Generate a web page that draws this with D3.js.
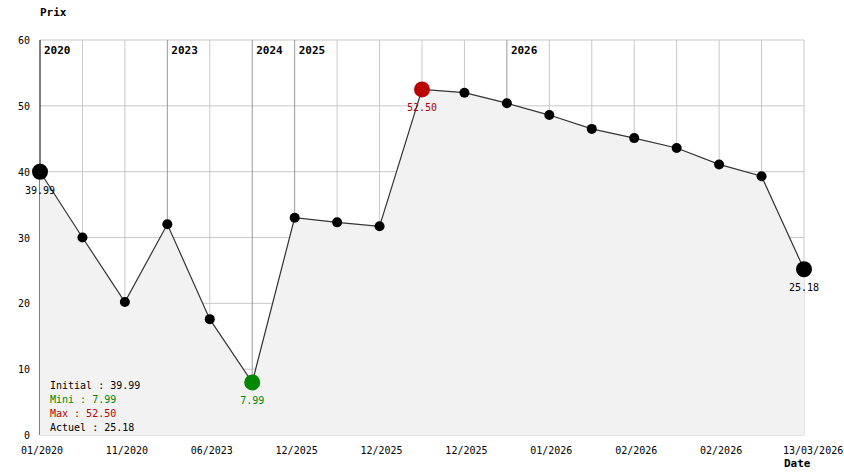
<!DOCTYPE html>
<html><head><meta charset="utf-8">
<script src="https://cdn.jsdelivr.net/npm/d3@7"></script>
<style>body{margin:0;background:#fff}svg{display:block}text{font-family:"DejaVu Sans Mono",monospace}</style>
</head><body>
<svg id="c" width="844" height="474"></svg>
<script>
const prices = [39.99, 30.0, 20.2, 32.0, 17.6, 7.99, 33.0, 32.3, 31.7, 52.50, 52.0, 50.4, 48.6, 46.5, 45.1, 43.6, 41.1, 39.3, 25.18];
const xLabels = ["01/2020","","11/2020","","06/2023","","12/2025","","12/2025","","12/2025","","01/2026","","02/2026","","02/2026","","13/03/2026"];
const yearMarks = [{i:0,label:"2020"},{i:3,label:"2023"},{i:5,label:"2024"},{i:6,label:"2025"},{i:11,label:"2026"}];
const yTicks = [0,10,20,30,40,50,60];
const legend = [{t:"Initial : 39.99",c:"#000"},{t:"Mini : 7.99",c:"#008800"},{t:"Max : 52.50",c:"#bb0000"},{t:"Actuel : 25.18",c:"#000"}];

const svg = d3.select("#c");
const L=40,R=804,T=40,B=435;
const x = d3.scaleLinear().domain([0,prices.length-1]).range([L,R]);
const y = d3.scaleLinear().domain([0,60]).range([B,T]);
const idx = d3.range(prices.length);
const last = prices.length-1;

// grid
svg.append("g").selectAll("line").data(yTicks).join("line")
  .attr("x1",L).attr("x2",R).attr("y1",d=>y(d)).attr("y2",d=>y(d)).attr("stroke","#c8c8c8");
const yearIdx = new Set(yearMarks.map(d=>d.i));
svg.append("g").selectAll("line").data(idx).join("line")
  .attr("x1",d=>x(d)).attr("x2",d=>x(d)).attr("y1",T).attr("y2",B)
  .attr("stroke",d=>d===0?"#000":(yearIdx.has(d)?"#999":"#c8c8c8"));

// area
svg.append("path").datum(idx)
  .attr("d",d3.area().x(d=>x(d)).y0(y(0)).y1(d=>y(prices[d])))
  .attr("fill","#f2f2f2");
svg.append("path").datum(idx)
  .attr("d",d3.line().x(d=>x(d)).y(d=>y(prices[d])))
  .attr("fill","none").attr("stroke","#333").attr("stroke-width",1.2);

// year labels
svg.append("g").selectAll("text").data(yearMarks).join("text")
  .attr("x",d=>x(d.i)+4).attr("y",T+14).attr("font-size",11).attr("font-weight","bold").text(d=>d.label);

// y axis labels
svg.append("g").selectAll("text").data(yTicks).join("text")
  .attr("x",30).attr("y",d=>y(d)+4).attr("text-anchor","end").attr("font-size",10).text(d=>d);
// x labels
svg.append("g").selectAll("text").data(idx.filter(i=>xLabels[i])).join("text")
  .attr("x",d=>d===last?x(d)-21:x(d)+2).attr("y",454)
  .attr("text-anchor",d=>d===last?"start":"middle").attr("font-size",10).text(d=>xLabels[d]);

svg.append("text").attr("x",40).attr("y",16).attr("font-size",11).attr("font-weight","bold").text("Prix");
svg.append("text").attr("x",784).attr("y",467).attr("font-size",11).attr("font-weight","bold").text("Date");

// points
const minI = prices.indexOf(d3.min(prices)), maxI = prices.indexOf(d3.max(prices));
const special = {0:"#000",[last]:"#000",[minI]:"#008800",[maxI]:"#bb0000"};
svg.append("g").selectAll("circle").data(idx).join("circle")
  .attr("cx",d=>x(d)).attr("cy",d=>y(prices[d]))
  .attr("r",d=>special[d]?8:5)
  .attr("fill",d=>special[d]||"#000");
svg.append("g").selectAll("text").data([0,minI,maxI,last]).join("text")
  .attr("x",d=>x(d)).attr("y",d=>y(prices[d])+22).attr("text-anchor","middle").attr("font-size",10)
  .attr("fill",d=>special[d]).text(d=>prices[d].toFixed(2));

// legend
svg.append("g").selectAll("text").data(legend).join("text")
  .attr("x",50).attr("y",(d,i)=>389+i*14).attr("font-size",10).attr("fill",d=>d.c).text(d=>d.t);
</script>
</body></html>
